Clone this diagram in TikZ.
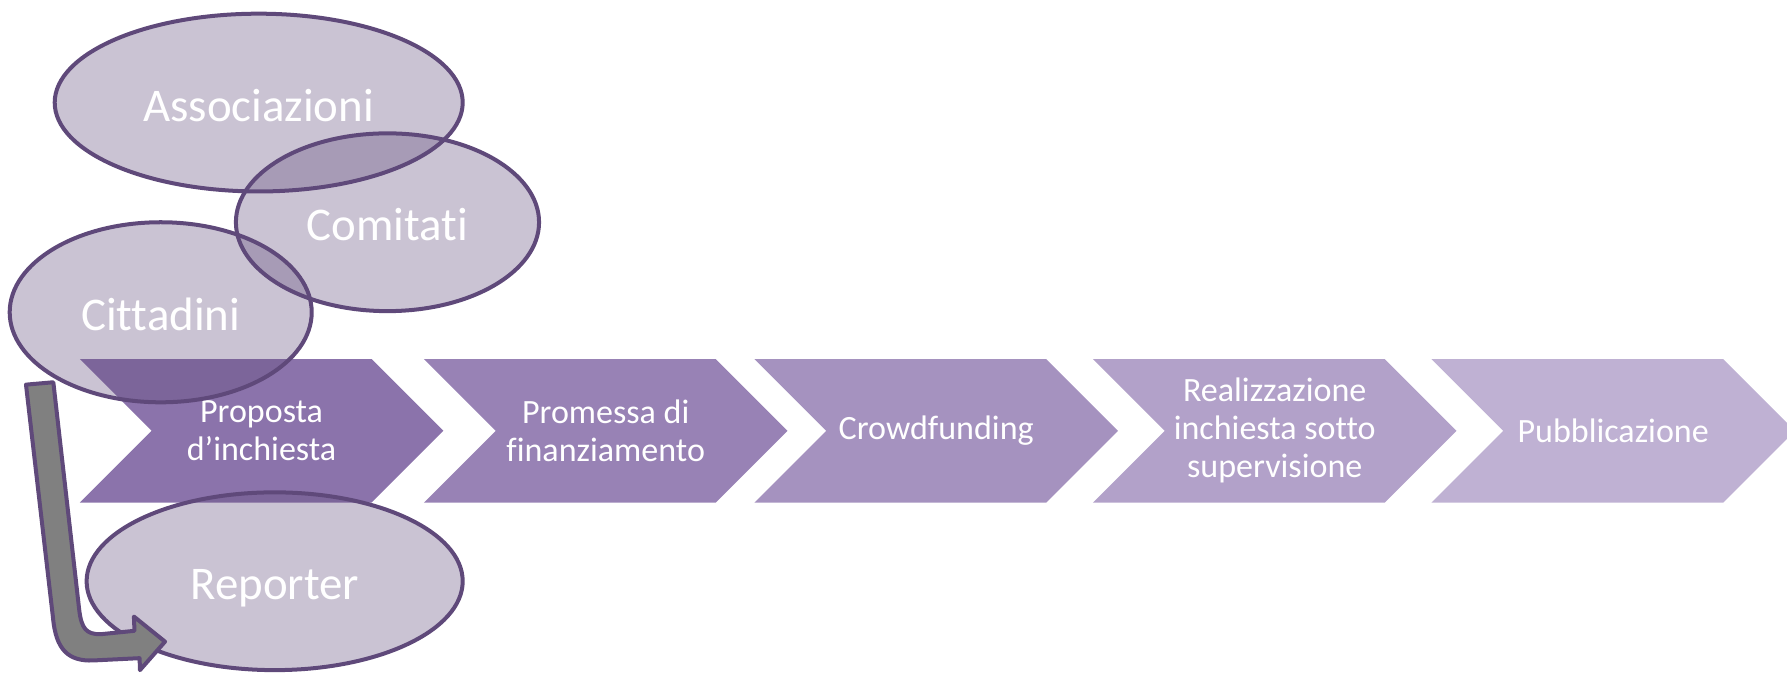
\documentclass[tikz,border=0pt]{standalone}
\usepackage{fontspec}
\setmainfont{Carlito}[Ligatures=NoCommon]
\usetikzlibrary{shapes.geometric,shapes.symbols}

\definecolor{plum}{HTML}{5F497A}
\definecolor{stepa}{HTML}{8B73AB}
\definecolor{stepb}{HTML}{9882B5}
\definecolor{stepc}{HTML}{A592BF}
\definecolor{stepd}{HTML}{B2A1C9}
\definecolor{stepe}{HTML}{BFB1D3}
\definecolor{bentgray}{HTML}{808080}

\begin{document}
\begin{tikzpicture}[x=0.1mm, y=0.1mm,
	phase/.style={signal, signal to=east, signal from=west, signal pointer angle=90, minimum width=31.9mm, minimum height=12.6mm, inner sep=0pt, text=white, align=center, font=\fontsize{8.5}{9.5}\selectfont},
	actor/.style={ellipse, draw=plum, line width=1pt, fill=plum, fill opacity=0.33, text opacity=1, text=white, inner sep=0pt, text height=4mm, text depth=0.75mm, font=\fontsize{11.7}{14}\selectfont}]
	\useasboundingbox (0,0) rectangle (1568,-591);
	\clip (0,0) rectangle (1568,-591);
	% phases
	\node[phase, fill=stepa] (propo) at (229.5,-378) {Proposta\\d’inchiesta};
	\node[phase, fill=stepb] (prom) at (531.5,-378) {Promessa di\\finanziamento};
	\node[phase, fill=stepc] (crowd) at (821.5,-378) {Crowdfunding};
	\node[phase, fill=stepd] (real) at (1118.5,-378) {Realizzazione\\inchiesta sotto\\supervisione};
	\node[phase, fill=stepe] (pubb) at (1415.5,-378) {Pubblicazione};
	% actors
	\node[actor, minimum width=35.8mm, minimum height=15.6mm] (assoc) at (227,-90) {Associazioni};
	\node[actor, minimum width=26.6mm, minimum height=15.6mm] (comit) at (340,-195) {Comitati};
	\node[actor, minimum width=26.5mm, minimum height=15.8mm] (citt) at (141,-274) {Cittadini};
	\node[actor, minimum width=33mm, minimum height=15.6mm] (repo) at (241,-510) {Reporter};
	% bent arrow
	\draw[line width=1pt, line join=round, draw=plum, fill=bentgray] (22.8,-337.5) -- (46.8,-335.4) -- (69.5,-535) .. controls (71.5,-552) and (76,-556.5) .. (88,-556.5) -- (118,-553.5) -- (117.5,-541) -- (144.8,-563) -- (122.8,-588) -- (122.5,-577.5) -- (82,-579.5) .. controls (60,-580.5) and (49,-570) .. (46.5,-542) -- cycle;
\end{tikzpicture}
\end{document}
